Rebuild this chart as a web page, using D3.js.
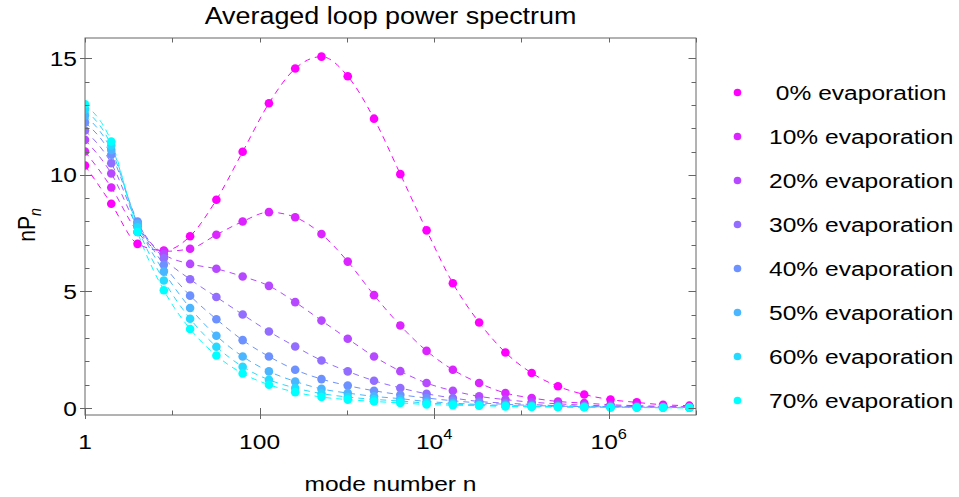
<!DOCTYPE html>
<html>
<head>
<meta charset="utf-8">
<script src="https://cdn.jsdelivr.net/npm/d3@7/dist/d3.min.js"></script>
<style>
  html, body { margin: 0; padding: 0; background: #fff; }
  svg { display: block; }
  text { font-family: "Liberation Sans", Arial, sans-serif; fill: #000; white-space: pre; }
</style>
</head>
<body>
<svg id="chart" width="959" height="497"></svg>
<script>
// Mode numbers n = 2^k, k = 0..23
const modeNumbers = [1, 2, 4, 8, 16, 32, 64, 128, 256, 512, 1024, 2048, 4096, 8192,
  16384, 32768, 65536, 131072, 262144, 524288, 1048576, 2097152, 4194304, 8388608];

const seriesLabels = [" 0% evaporation", "10% evaporation", "20% evaporation", "30% evaporation",
  "40% evaporation", "50% evaporation", "60% evaporation", "70% evaporation"];

const seriesColors = ["#ff00ff", "#db24ff", "#b649ff", "#926dff",
  "#6d92ff", "#49b6ff", "#24dbff", "#00ffff"];

// nP_n for each evaporation fraction
const evap0  = [10.40, 8.76, 7.04, 6.75, 7.37, 8.93, 10.99, 13.07, 14.56, 15.07, 14.23, 12.41, 10.03, 7.62, 5.35, 3.67, 2.38, 1.50, 0.93, 0.58, 0.36, 0.24, 0.14, 0.10];
const evap10 = [11.00, 9.46, 7.55, 6.72, 6.83, 7.43, 8.00, 8.40, 8.18, 7.46, 6.28, 4.84, 3.54, 2.45, 1.64, 1.07, 0.64, 0.43, 0.28, 0.21, 0.14, 0.10, 0.07, 0.05];
const evap20 = [11.50, 10.06, 7.80, 6.60, 6.18, 5.97, 5.64, 5.24, 4.54, 3.75, 2.97, 2.21, 1.58, 1.07, 0.74, 0.50, 0.36, 0.25, 0.18, 0.12, 0.09, 0.06, 0.05, 0.04];
const evap30 = [11.90, 10.50, 7.95, 6.42, 5.52, 4.76, 4.01, 3.28, 2.64, 2.04, 1.57, 1.17, 0.86, 0.61, 0.43, 0.28, 0.21, 0.15, 0.10, 0.08, 0.06, 0.05, 0.04, 0.03];
const evap40 = [12.25, 10.86, 8.00, 6.14, 4.82, 3.81, 2.91, 2.21, 1.64, 1.24, 0.96, 0.74, 0.57, 0.43, 0.31, 0.22, 0.16, 0.11, 0.08, 0.06, 0.05, 0.04, 0.03, 0.02];
const evap50 = [12.55, 11.07, 7.90, 5.85, 4.29, 3.10, 2.21, 1.57, 1.14, 0.82, 0.64, 0.50, 0.40, 0.28, 0.21, 0.15, 0.11, 0.08, 0.06, 0.05, 0.04, 0.03, 0.02, 0.02];
const evap60 = [12.80, 11.26, 7.75, 5.47, 3.83, 2.63, 1.77, 1.21, 0.86, 0.62, 0.47, 0.37, 0.30, 0.21, 0.17, 0.12, 0.09, 0.07, 0.05, 0.04, 0.03, 0.02, 0.02, 0.01];
const evap70 = [13.03, 11.43, 7.55, 5.05, 3.39, 2.25, 1.48, 1.00, 0.68, 0.47, 0.36, 0.28, 0.22, 0.15, 0.12, 0.10, 0.07, 0.05, 0.04, 0.03, 0.02, 0.02, 0.01, 0.01];

const seriesValues = [evap0, evap10, evap20, evap30, evap40, evap50, evap60, evap70];

const yMajorTicks = [0, 5, 10, 15];
const yMinorTicks = [1, 2, 3, 4, 6, 7, 8, 9, 11, 12, 13, 14];
const xDecadeTicks = [1, 10, 100, 1e3, 1e4, 1e5, 1e6, 1e7];
const xLabelTicks = [
  { v: 1, base: "1", exp: "" },
  { v: 100, base: "100", exp: "" },
  { v: 1e4, base: "10", exp: "4" },
  { v: 1e6, base: "10", exp: "6" }
];

const titleText = "Averaged loop power spectrum";
const xTitle = "mode number n";

// ---- layout ----
const svg = d3.select("#chart");
const plot = { left: 85, right: 696, top: 38, bottom: 415 };
const stretch = 1.17;   // glyphs are drawn slightly wide
const frameColor = "#666";

const x = d3.scaleLog().domain([1, 1e7]).range([plot.left, plot.right]);
const y = d3.scaleLinear().domain([-0.3, 15.87]).range([plot.bottom, plot.top]);

// text helper: horizontally widened text anchored at (px, py)
function label(parent, px, py, str, size, anchor) {
  const g = parent.append("g").attr("transform", `translate(${px},${py}) scale(${stretch},1)`);
  const t = g.append("text").attr("font-size", size).attr("text-anchor", anchor || "start").text(str);
  return t;
}

// clip for data marks
svg.append("clipPath").attr("id", "plotClip")
  .append("rect")
  .attr("x", plot.left).attr("y", plot.top)
  .attr("width", plot.right - plot.left).attr("height", plot.bottom - plot.top);

// ---- data ----
const dataG = svg.append("g").attr("clip-path", "url(#plotClip)");
const line = d3.line()
  .x(d => x(d[0]))
  .y(d => y(d[1]))
  .curve(d3.curveMonotoneX);

seriesValues.forEach((vals, i) => {
  const pts = modeNumbers.map((n, k) => [n, vals[k]]);
  dataG.append("path")
    .attr("d", line(pts))
    .attr("fill", "none")
    .attr("stroke", seriesColors[i])
    .attr("stroke-width", 1)
    .attr("stroke-dasharray", "6,5");
});
seriesValues.forEach((vals, i) => {
  const pts = modeNumbers.map((n, k) => [n, vals[k]]);
  dataG.selectAll(null).data(pts).enter().append("circle")
    .attr("cx", d => x(d[0]))
    .attr("cy", d => y(d[1]))
    .attr("r", 4.3)
    .attr("fill", seriesColors[i]);
});

// ---- frame and ticks ----
const axG = svg.append("g").attr("stroke", frameColor).attr("stroke-width", 1).attr("fill", "none");
axG.append("rect")
  .attr("x", plot.left).attr("y", plot.top)
  .attr("width", plot.right - plot.left).attr("height", plot.bottom - plot.top);

yMajorTicks.forEach(v => {
  const yy = Math.round(y(v)) + 0.5;
  axG.append("line").attr("x1", plot.left - 5).attr("x2", plot.left + 7).attr("y1", yy).attr("y2", yy);
  axG.append("line").attr("x1", plot.right - 7.5).attr("x2", plot.right).attr("y1", yy).attr("y2", yy);
});
yMinorTicks.forEach(v => {
  const yy = Math.round(y(v)) + 0.5;
  axG.append("line").attr("x1", plot.left).attr("x2", plot.left + 4.5).attr("y1", yy).attr("y2", yy);
  axG.append("line").attr("x1", plot.right - 4.5).attr("x2", plot.right).attr("y1", yy).attr("y2", yy);
});
const labelled = new Set(xLabelTicks.map(d => d.v));
xDecadeTicks.forEach(v => {
  const xx = Math.round(x(v)) + 0.5;
  const big = labelled.has(v);
  axG.append("line").attr("x1", xx).attr("x2", xx)
    .attr("y1", plot.bottom - (big ? 7 : 4.5)).attr("y2", plot.bottom + (big ? 4 : 0));
  axG.append("line").attr("x1", xx).attr("x2", xx)
    .attr("y1", plot.top).attr("y2", plot.top + 4.5);
});

// ---- tick labels ----
yMajorTicks.forEach(v => {
  label(svg, 77, y(v) + 7.5, String(v), 21, "end");
});
xLabelTicks.forEach(d => {
  const t = label(svg, x(d.v), 449, "", 21, "middle");
  t.append("tspan").text(d.base);
  if (d.exp) {
    t.append("tspan").attr("font-size", 14).attr("dy", -10).text(d.exp);
  }
});

// ---- titles ----
label(svg, 390.5, 24, titleText, 23, "middle");
label(svg, 390.5, 491, xTitle, 21, "middle");

// y axis title nP_n (rotated)
{
  const g = svg.append("g").attr("transform", `translate(35,225) scale(${stretch},1) rotate(-90)`);
  const t = g.append("text").attr("font-size", 21).attr("text-anchor", "middle");
  t.append("tspan").text("nP");
  t.append("tspan").attr("font-size", 14).attr("font-style", "italic").attr("dy", 5).text("n");
}

// ---- legend ----
const legendTop = 92.5, legendStep = 44;
seriesLabels.forEach((s, i) => {
  const cy = legendTop + i * legendStep;
  svg.append("circle").attr("cx", 737.5).attr("cy", cy).attr("r", 3.8).attr("fill", seriesColors[i]);
  label(svg, 769, cy + 7.5, s, 21, "start");
});
</script>
</body>
</html>
